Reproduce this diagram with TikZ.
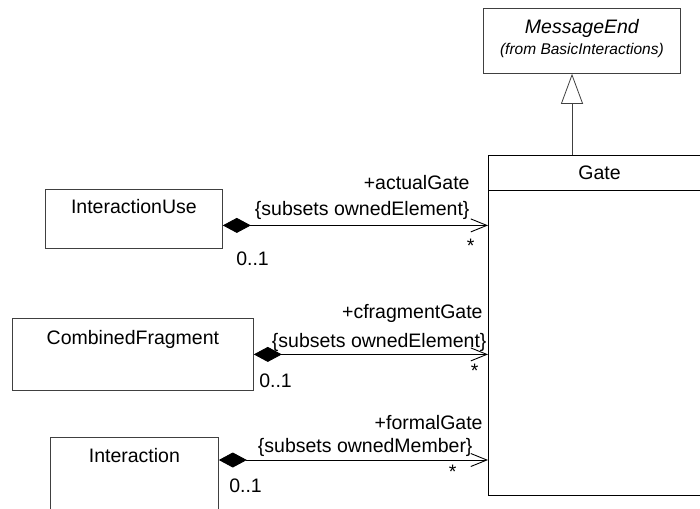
\documentclass[tikz,border=0pt]{standalone}
\usepackage{fontspec}
\setmainfont{Liberation Sans}
\usetikzlibrary{arrows.meta, positioning, calc}

\begin{document}
\begin{tikzpicture}[
    x=1pt, y=-1pt,
    cls/.style={rectangle, draw=black!75, line width=0.8pt, anchor=north west, inner sep=0pt},
    clsname/.style={anchor=base, inner sep=0pt, font=\fontsize{19.5}{22}\selectfont},
    lbl/.style={inner sep=0pt, font=\fontsize{19.5}{22}\selectfont},
    comp/.style={{Diamond[length=28pt, width=15pt]}-{Straight Barb[length=16pt, width=13pt]}, line width=0.9pt},
    gen/.style={-{Triangle[open, length=30pt, width=22pt, fill=white]}, line width=0.8pt, draw=black!75},
]
\useasboundingbox (0,0) rectangle (700,508);
\clip (0,0) rectangle (700,508);

% Classes
\node[cls, minimum width=197, minimum height=65] (msgend) at (483,8) {};
\node[clsname, font=\fontsize{19.5}{22}\selectfont\itshape] (msgname) at ([yshift=-26]msgend.north) {MessageEnd};
\node[clsname, font=\fontsize{15.5}{17}\selectfont\itshape] (msgpkg) at ([yshift=-47]msgend.north) {(from BasicInteractions)};

\node[cls, draw=black, line width=1pt, minimum width=222, minimum height=340] (gate) at (488,155) {};
\node[clsname] (gatename) at ([yshift=-24]gate.north) {Gate};
\draw[line width=0.8pt] ([yshift=-35]gate.north west) -- ([yshift=-35]gate.north east);

\node[cls, minimum width=177, minimum height=59] (iuse) at (45,189) {};
\node[clsname] (iusename) at ([yshift=-24]iuse.north) {InteractionUse};

\node[cls, minimum width=241, minimum height=72] (cfrag) at (12,318) {};
\node[clsname] (cfragname) at ([yshift=-26]cfrag.north) {CombinedFragment};

\node[cls, minimum width=168, minimum height=100] (inter) at (50,437) {};
\node[clsname] (intername) at ([yshift=-25]inter.north) {Interaction};

% Generalization
\draw[gen] ([xshift=84]gate.north west) coordinate (genS) -- (genS |- msgend.south);

% Compositions
\draw[comp] ([yshift=-6.5]iuse.east) coordinate (iuseR) -- (iuseR -| gate.west) coordinate (iuseG)
  node[lbl, pos=1, anchor=base east, xshift=-18, yshift=36] (iuserole) {+actualGate}
  node[lbl, pos=1, anchor=base east, xshift=-18, yshift=10] (iusecons) {\{subsets ownedElement\}}
  node[lbl, pos=1, anchor=base east, xshift=-13, yshift=-27] (iusemany) {*}
  node[lbl, pos=0, anchor=base west, xshift=13, yshift=-40] (iuseone) {0..1};

\draw[comp] (cfrag.east) -- (cfrag.east -| gate.west)
  node[lbl, pos=1, anchor=base east, xshift=-5, yshift=36] (cfragrole) {+cfragmentGate}
  node[lbl, pos=1, anchor=base east, xshift=-1, yshift=7] (cfragcons) {\{subsets ownedElement\}}
  node[lbl, pos=1, anchor=base east, xshift=-9, yshift=-23] (cfragmany) {*}
  node[lbl, pos=0, anchor=base west, xshift=5, yshift=-33] (cfragone) {0..1};

\draw[comp] ([yshift=-23]inter.north east) coordinate (interR) -- (interR -| gate.west)
  node[lbl, pos=1, anchor=base east, xshift=-5, yshift=31] (interrole) {+formalGate}
  node[lbl, pos=1, anchor=base east, xshift=-15, yshift=8] (intercons) {\{subsets ownedMember\}}
  node[lbl, pos=1, anchor=base east, xshift=-31, yshift=-18] (intermany) {*}
  node[lbl, pos=0, anchor=base west, xshift=10, yshift=-32] (interone) {0..1};
\end{tikzpicture}
\end{document}
